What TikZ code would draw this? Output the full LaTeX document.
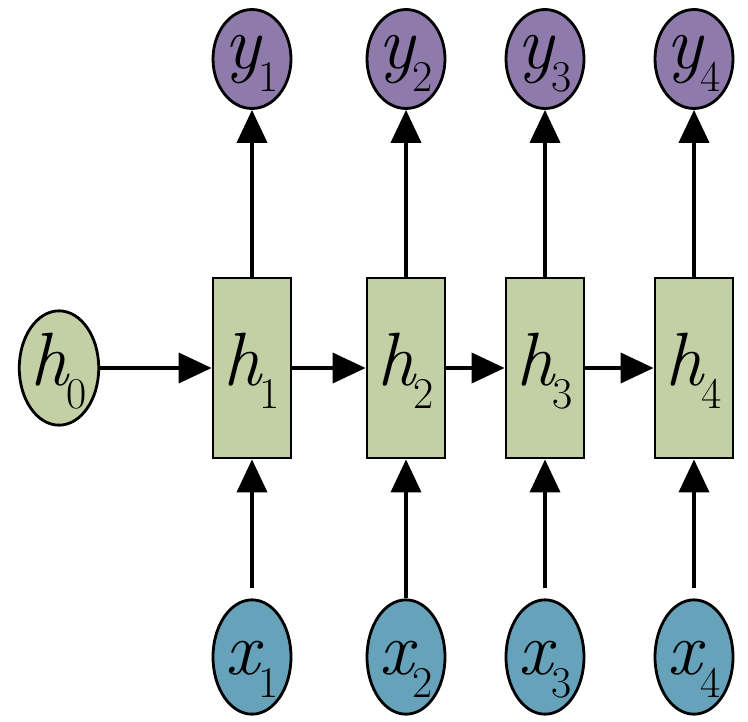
\documentclass[tikz,border=0pt]{standalone}
\usepackage{tikz}
\usetikzlibrary{positioning,shapes.geometric,arrows.meta}
\definecolor{lilac}{HTML}{8E7BAB}
\definecolor{sage}{HTML}{C3CFA5}
\definecolor{steel}{HTML}{66A2B9}
\newcommand{\vlabel}[2]{{\itshape #1}\kern-1pt\raisebox{-13pt}{\upshape\fontsize{25}{27}\selectfont #2}}

\begin{document}
\begin{tikzpicture}[scale=1,
    font=\rmfamily\fontsize{43}{46}\selectfont,
    cell/.style={ellipse, draw=black, line width=1.6pt, minimum width=1.56cm, minimum height=1.98cm, inner sep=0pt, text height=33pt, text depth=13pt},
    outcell/.style={cell, fill=lilac, text height=24pt},
    incell/.style={cell, fill=steel},
    initcell/.style={cell, fill=sage},
    hidden/.style={rectangle, draw=black, line width=1.6pt, fill=sage, minimum width=1.56cm, minimum height=3.6cm, inner sep=0pt, text height=33pt, text depth=13pt},
    arr/.style={line width=2.2pt, -{Triangle[width=0.6cm, length=0.66cm]}}]
      \useasboundingbox (0,0) rectangle (14.96,14.42);

      % outputs
      \node[outcell] (y1) at (5.04,13.24) {\vlabel{y}{1}};
      \node[outcell] (y2) at (8.12,13.24) {\vlabel{y}{2}};
      \node[outcell] (y3) at (10.9,13.24) {\vlabel{y}{3}};
      \node[outcell] (y4) at (13.88,13.24) {\vlabel{y}{4}};

      % hidden states
      \node[initcell] (h0) at (1.18,7.06) {\vlabel{h}{0}};
      \node[hidden] (h1) at (5.04,7.06) {\vlabel{h}{1}};
      \node[hidden] (h2) at (8.12,7.06) {\vlabel{h}{2}};
      \node[hidden] (h3) at (10.9,7.06) {\vlabel{h}{3}};
      \node[hidden] (h4) at (13.88,7.06) {\vlabel{h}{4}};

      % inputs
      \node[incell] (x1) at (5.04,1.28) {\vlabel{x}{1}};
      \node[incell] (x2) at (8.12,1.28) {\vlabel{x}{2}};
      \node[incell] (x3) at (10.9,1.28) {\vlabel{x}{3}};
      \node[incell] (x4) at (13.88,1.28) {\vlabel{x}{4}};

      \draw[arr] (h0) -- (h1);
      \draw[arr] (h1) -- (h2);
      \draw[arr] (h2) -- (h3);
      \draw[arr] (h3) -- (h4);

      \draw[arr] (h1) -- (y1);
      \draw[arr] (h2) -- (y2);
      \draw[arr] (h3) -- (y3);
      \draw[arr] (h4) -- (y4);

      \draw[arr, shorten <=0.2cm] (x1) -- (h1);
      \draw[arr] (x2) -- (h2);
      \draw[arr, shorten <=0.2cm] (x3) -- (h3);
      \draw[arr, shorten <=0.2cm] (x4) -- (h4);
    \end{tikzpicture}
\end{document}
